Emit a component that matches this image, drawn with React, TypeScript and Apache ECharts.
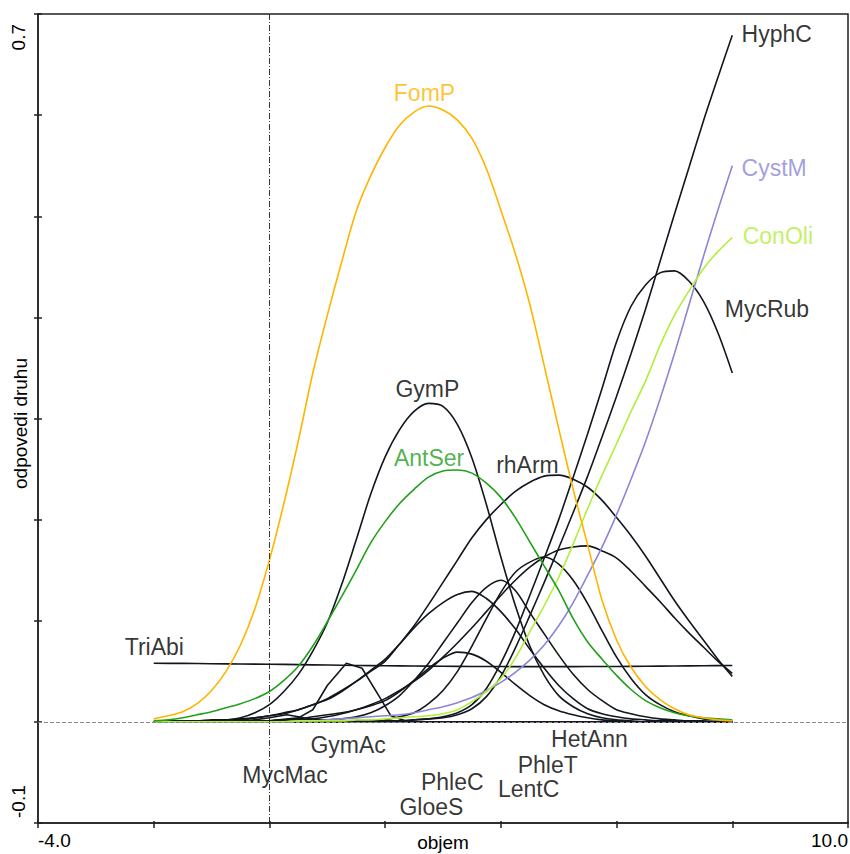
import React, { useEffect, useRef } from 'react';
import * as echarts from 'echarts';

// gradient positions (objem), step 0.25
const X = [-2, -1.75, -1.5, -1.25, -1, -0.75, -0.5, -0.25, 0, 0.25, 0.5, 0.75, 1, 1.25, 1.5, 1.75, 2, 2.25, 2.5, 2.75, 3, 3.25, 3.5, 3.75, 4, 4.25, 4.5, 4.75, 5, 5.25, 5.5, 5.75, 6, 6.25, 6.5, 6.75, 7, 7.25, 7.5, 7.75, 8];
// coarser positions for the nearly flat TriAbi response
const XC = [-2, -1.5, -1, -0.5, 0, 0.5, 1, 1.5, 2, 2.5, 3, 3.5, 4, 4.5, 5, 5.5, 6, 6.5, 7, 7.5, 8];

const fomP = [0.003, 0.006, 0.010, 0.018, 0.031, 0.050, 0.076, 0.112, 0.160, 0.216, 0.278, 0.345, 0.402, 0.455, 0.505, 0.540, 0.568, 0.590, 0.603, 0.609, 0.605, 0.595, 0.577, 0.547, 0.506, 0.463, 0.413, 0.352, 0.290, 0.230, 0.175, 0.120, 0.081, 0.054, 0.035, 0.022, 0.013, 0.007, 0.004, 0.002, 0.001];
const gymP = [0, 0, 0, 0, 0.001, 0.002, 0.004, 0.009, 0.017, 0.030, 0.047, 0.070, 0.098, 0.136, 0.180, 0.225, 0.262, 0.289, 0.307, 0.315, 0.312, 0.294, 0.261, 0.215, 0.163, 0.115, 0.075, 0.046, 0.026, 0.015, 0.008, 0.004, 0.002, 0.001, 0, 0, 0, 0, 0, 0, 0];
const antSer = [0.001, 0.002, 0.004, 0.007, 0.010, 0.014, 0.018, 0.023, 0.030, 0.041, 0.055, 0.075, 0.099, 0.124, 0.150, 0.177, 0.198, 0.216, 0.230, 0.242, 0.248, 0.249, 0.246, 0.236, 0.222, 0.202, 0.178, 0.154, 0.130, 0.102, 0.079, 0.062, 0.046, 0.032, 0.021, 0.014, 0.009, 0.006, 0.004, 0.003, 0.002];
const rhArm = [0, 0, 0, 0.001, 0.001, 0.002, 0.002, 0.004, 0.006, 0.008, 0.012, 0.017, 0.023, 0.031, 0.040, 0.050, 0.060, 0.077, 0.095, 0.116, 0.138, 0.160, 0.182, 0.200, 0.215, 0.228, 0.237, 0.243, 0.244, 0.240, 0.232, 0.219, 0.202, 0.184, 0.164, 0.142, 0.120, 0.100, 0.081, 0.062, 0.045];
const hyphC = [0, 0, 0, 0, 0, 0, 0, 0, 0, 0, 0, 0, 0, 0, 0.001, 0.001, 0.001, 0.001, 0.002, 0.003, 0.004, 0.007, 0.013, 0.025, 0.045, 0.073, 0.105, 0.138, 0.172, 0.207, 0.243, 0.282, 0.322, 0.364, 0.408, 0.455, 0.502, 0.548, 0.594, 0.637, 0.679];
const mycRub = [0, 0, 0, 0, 0, 0, 0, 0, 0, 0, 0, 0, 0, 0, 0.001, 0.001, 0.001, 0.001, 0.002, 0.003, 0.005, 0.009, 0.017, 0.033, 0.058, 0.089, 0.125, 0.162, 0.200, 0.242, 0.285, 0.330, 0.376, 0.411, 0.432, 0.444, 0.446, 0.436, 0.416, 0.385, 0.345];
const cystM = [0, 0, 0, 0, 0, 0, 0, 0, 0, 0, 0.001, 0.001, 0.002, 0.003, 0.004, 0.005, 0.006, 0.007, 0.009, 0.012, 0.015, 0.019, 0.024, 0.031, 0.039, 0.049, 0.061, 0.076, 0.095, 0.118, 0.145, 0.173, 0.205, 0.240, 0.277, 0.319, 0.364, 0.412, 0.460, 0.506, 0.550];
const conOli = [0, 0, 0, 0, 0, 0, 0, 0, 0, 0, 0.001, 0.001, 0.001, 0.001, 0.002, 0.002, 0.003, 0.004, 0.005, 0.006, 0.008, 0.012, 0.020, 0.030, 0.043, 0.063, 0.089, 0.115, 0.143, 0.176, 0.211, 0.244, 0.275, 0.307, 0.337, 0.372, 0.402, 0.426, 0.448, 0.465, 0.479];
const triAbi = [0.058, 0.0578, 0.0575, 0.0572, 0.057, 0.0566, 0.0562, 0.0558, 0.0555, 0.0552, 0.055, 0.0548, 0.0547, 0.0546, 0.0546, 0.0547, 0.0548, 0.055, 0.0552, 0.0555, 0.0558];
const hetAnn = [0, 0, 0, 0, 0, 0, 0.001, 0.001, 0.001, 0.002, 0.002, 0.003, 0.005, 0.008, 0.012, 0.017, 0.023, 0.031, 0.040, 0.051, 0.064, 0.078, 0.093, 0.109, 0.125, 0.140, 0.153, 0.163, 0.170, 0.173, 0.174, 0.169, 0.162, 0.149, 0.134, 0.119, 0.103, 0.088, 0.074, 0.060, 0.048];
const phleT = [0, 0, 0, 0, 0, 0, 0, 0, 0, 0, 0, 0, 0, 0, 0.001, 0.001, 0.002, 0.005, 0.009, 0.018, 0.031, 0.050, 0.075, 0.102, 0.128, 0.148, 0.158, 0.163, 0.156, 0.140, 0.117, 0.090, 0.064, 0.043, 0.027, 0.017, 0.010, 0.006, 0.003, 0.002, 0.001];
const lentC = [0, 0, 0, 0, 0, 0, 0, 0, 0, 0, 0.001, 0.001, 0.002, 0.003, 0.005, 0.009, 0.016, 0.026, 0.041, 0.058, 0.078, 0.098, 0.118, 0.133, 0.140, 0.130, 0.108, 0.087, 0.066, 0.047, 0.032, 0.021, 0.012, 0.008, 0.005, 0.003, 0.002, 0.001, 0.001, 0, 0];
const phleC = [0, 0.001, 0.001, 0.001, 0.002, 0.002, 0.003, 0.004, 0.006, 0.009, 0.012, 0.017, 0.022, 0.030, 0.040, 0.051, 0.062, 0.077, 0.093, 0.107, 0.118, 0.126, 0.129, 0.122, 0.109, 0.092, 0.072, 0.053, 0.036, 0.023, 0.013, 0.008, 0.005, 0.003, 0.002, 0.001, 0.001, 0, 0, 0, 0];
const gloeS = [0, 0, 0, 0, 0, 0, 0, 0, 0.001, 0.002, 0.003, 0.005, 0.007, 0.009, 0.012, 0.016, 0.021, 0.030, 0.041, 0.053, 0.063, 0.069, 0.067, 0.060, 0.049, 0.037, 0.026, 0.017, 0.011, 0.007, 0.004, 0.002, 0.001, 0, 0, 0, 0, 0, 0, 0, 0];

// sharply peaked responses, own sampling
const gymAcX = [-2, -1, 0, 0.5, 0.75, 1.0, 1.33, 1.6, 1.9, 2.1, 2.4, 3, 8];
const gymAcY = [0, 0, 0.001, 0.004, 0.012, 0.036, 0.058, 0.053, 0.025, 0.006, 0, 0, 0];
const mycMacX = [-2, -1, -0.4, 0, 0.3, 0.6, 1.0, 1.5, 8];
const mycMacY = [0, 0, 0.001, 0.004, 0.007, 0.004, 0.001, 0, 0];

// tick labels
const xTickValues = [-4, 10];
const xTickTexts = ['-4.0', '10.0'];
const yTickValues = [-0.1, 0.7];
const yTickTexts = ['-0.1', '0.7'];

// species label anchors (data units)
const labelNames = ['HyphC', 'CystM', 'ConOli', 'MycRub', 'FomP', 'GymP', 'AntSer', 'rhArm', 'TriAbi', 'GymAc', 'MycMac', 'PhleC', 'GloeS', 'HetAnn', 'PhleT', 'LentC'];
const labelXs = [8.16, 8.16, 8.18, 7.87, 2.68, 2.73, 2.76, 4.46, -1.99, 1.36, 0.27, 3.16, 2.8, 5.53, 4.81, 4.48];
const labelYs = [0.68, 0.548, 0.48, 0.408, 0.622, 0.329, 0.261, 0.254, 0.074, -0.023, -0.053, -0.059, -0.084, -0.017, -0.043, -0.066];

const BLACK = '#12161e';
const ORANGE = '#FFB400';
const GREEN = '#22A01C';
const PURPLE = '#8B86D6';
const LIME = '#B2EE3C';
const TEXT = '#000';
const FONT = "'Liberation Sans', Arial, sans-serif";

const colorOf: Record<string, string> = {
  FomP: ORANGE, AntSer: GREEN, CystM: PURPLE, ConOli: LIME,
};

const curves: { name: string; xs: number[]; ys: number[]; smooth: number | boolean }[] = [
  { name: 'TriAbi', xs: XC, ys: triAbi, smooth: 0.3 },
  { name: 'MycMac', xs: mycMacX, ys: mycMacY, smooth: false },
  { name: 'GymAc', xs: gymAcX, ys: gymAcY, smooth: false },
  { name: 'GloeS', xs: X, ys: gloeS, smooth: 0.3 },
  { name: 'PhleC', xs: X, ys: phleC, smooth: 0.3 },
  { name: 'LentC', xs: X, ys: lentC, smooth: 0.3 },
  { name: 'PhleT', xs: X, ys: phleT, smooth: 0.3 },
  { name: 'HetAnn', xs: X, ys: hetAnn, smooth: 0.3 },
  { name: 'rhArm', xs: X, ys: rhArm, smooth: 0.3 },
  { name: 'GymP', xs: X, ys: gymP, smooth: 0.3 },
  { name: 'MycRub', xs: X, ys: mycRub, smooth: 0.3 },
  { name: 'HyphC', xs: X, ys: hyphC, smooth: 0.3 },
  { name: 'CystM', xs: X, ys: cystM, smooth: 0.3 },
  { name: 'ConOli', xs: X, ys: conOli, smooth: 0.3 },
  { name: 'AntSer', xs: X, ys: antSer, smooth: 0.3 },
  { name: 'FomP', xs: X, ys: fomP, smooth: 0.3 },
];

export default function App() {
  const ref = useRef<HTMLDivElement>(null);
  useEffect(() => {
    if (!ref.current) return;
    const chart = echarts.init(ref.current, null, { renderer: 'svg' });
    const lineSeries: any[] = curves.map((c) => {
      const col = colorOf[c.name] || BLACK;
      return {
        type: 'line',
        name: c.name,
        data: c.xs.map((x, i) => [x, c.ys[i]]),
        smooth: c.smooth,
        symbol: 'none',
        showSymbol: false,
        silent: true,
        lineStyle: { color: col, width: 1.6 },
        itemStyle: { color: col },
        emphasis: { disabled: true },
      };
    });
    lineSeries[0].markLine = {
      silent: true,
      symbol: ['none', 'none'],
      label: { show: false },
      emphasis: { disabled: true },
      data: [
        { xAxis: 0, lineStyle: { type: [6, 2, 1, 2], color: '#222', width: 0.9 } },
        { yAxis: 0, lineStyle: { type: [4, 2], color: '#888', width: 1 } },
      ],
    };
    const labelSeries = {
      type: 'scatter',
      symbolSize: 1,
      silent: true,
      z: 10,
      itemStyle: { color: 'rgba(0,0,0,0)' },
      emphasis: { disabled: true },
      data: labelNames.map((n, i) => ({
        name: n,
        value: [labelXs[i], labelYs[i]],
        label: {
          show: true,
          position: 'inside',
          formatter: '{b}',
          align: i < 4 ? 'left' : 'center',
          verticalAlign: 'middle',
          color: colorOf[n] || TEXT,
          fontSize: 23,
          fontFamily: FONT,
        },
      })),
    };
    const axisLineStyle = { color: '#222', width: 1.5 };
    const near = (a: number, b: number) => Math.abs(a - b) < 1e-6;
    chart.setOption({
      animation: false,
      textStyle: { fontFamily: FONT },
      grid: {
        left: 38, top: 14, right: 2, bottom: 31,
        show: true, borderColor: '#222', borderWidth: 1.5,
        containLabel: false, outerBoundsMode: 'none',
      },
      xAxis: [
        {
          type: 'value', min: -4, max: 10, interval: 2, position: 'bottom',
          axisLine: { show: true, onZero: false, lineStyle: axisLineStyle },
          axisTick: { show: true, length: 5, lineStyle: axisLineStyle },
          splitLine: { show: false },
          axisLabel: {
            show: true, margin: 8, fontSize: 19, color: TEXT, fontFamily: FONT,
            showMinLabel: true, showMaxLabel: true,
            alignMinLabel: 'left', alignMaxLabel: 'right',
            formatter: (v: number) => {
              const k = xTickValues.findIndex((t) => near(t, v));
              return k >= 0 ? xTickTexts[k] : '';
            },
          },
          name: 'objem', nameLocation: 'middle', nameGap: 10, nameMoveOverlap: false,
          nameTextStyle: { fontSize: 19, color: TEXT, fontFamily: FONT },
        },
        {
          type: 'value', min: -4, max: 10, interval: 2, position: 'bottom',
          axisLine: { show: false, onZero: false },
          axisTick: { show: true, inside: true, length: 2, lineStyle: axisLineStyle },
          axisLabel: { show: false }, splitLine: { show: false },
        },
      ],
      yAxis: [
        {
          type: 'value', min: -0.1, max: 0.7, interval: 0.1, position: 'left',
          axisLine: { show: true, onZero: false, lineStyle: axisLineStyle },
          axisTick: { show: true, length: 4, lineStyle: axisLineStyle },
          splitLine: { show: false },
          axisLabel: {
            show: true, rotate: 90, margin: 10, fontSize: 19, color: TEXT, fontFamily: FONT,
            showMinLabel: true, showMaxLabel: true,
            alignMinLabel: 'left', alignMaxLabel: 'right',
            formatter: (v: number) => {
              const k = yTickValues.findIndex((t) => near(t, v));
              if (k < 0) return '';
              return k === 0 ? '{mn|' + yTickTexts[k] + '}' : '{mx|' + yTickTexts[k] + '}';
            },
            rich: {
              mn: { padding: [0, 0, 0, 5], fontSize: 19, color: TEXT, fontFamily: FONT },
              mx: { padding: [0, 10, 0, 0], fontSize: 19, color: TEXT, fontFamily: FONT },
            },
          },
          name: 'odpovedi druhu', nameLocation: 'middle', nameGap: 8, nameMoveOverlap: false,
          nameTextStyle: { fontSize: 19, color: TEXT, fontFamily: FONT, padding: [0, 10, 0, 0] },
        },
        {
          type: 'value', min: -0.1, max: 0.7, interval: 0.1, position: 'left',
          axisLine: { show: false, onZero: false },
          axisTick: { show: true, inside: true, length: 4, lineStyle: axisLineStyle },
          axisLabel: { show: false }, splitLine: { show: false },
        },
      ],
      series: [...lineSeries, labelSeries],
    });
    return () => chart.dispose();
  }, []);
  return <div ref={ref} style={{ position: 'absolute', left: 0, top: 0, width: 850, height: 854 }} />;
}
